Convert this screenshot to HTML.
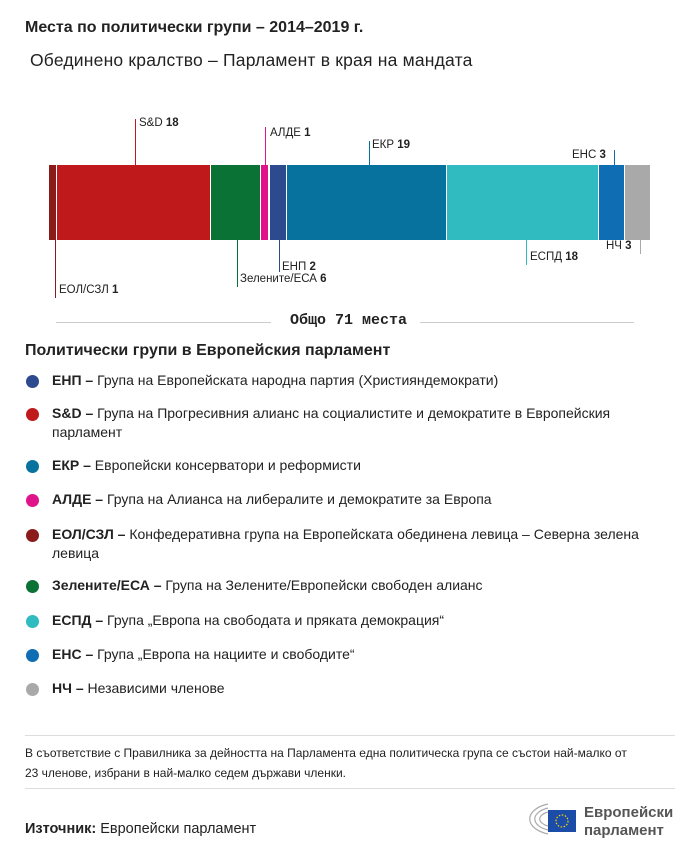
<!DOCTYPE html><html><head><meta charset="utf-8"><style>
body{margin:0;width:700px;height:856px;background:#fff;font-family:"Liberation Sans","DejaVu Sans",sans-serif;color:#222;position:relative;overflow:hidden}
.a{position:absolute;white-space:nowrap}
.s{position:absolute;top:165px;height:75px}
.l{position:absolute;width:1px}
.lb{position:absolute;font-size:11.5px;white-space:nowrap}
.dot{position:absolute;left:26px;width:13px;height:13px;border-radius:50%}
.it{position:absolute;left:52px;width:610px;font-size:14px;line-height:19px}
</style></head><body>
<div class="a" style="left:25px;top:19px;font-size:16px;font-weight:bold">Места по политически групи – 2014–2019 г.</div>
<div class="a" style="left:30px;top:50px;font-size:17.5px;letter-spacing:0.2px">Обединено кралство – Парламент в края на мандата</div>

<div class="s" style="left:49px;width:7px;background:#8b1a1a"></div>
<div class="s" style="left:57px;width:153px;background:#c0191b"></div>
<div class="s" style="left:211px;width:49px;background:#0b7236"></div>
<div class="s" style="left:261px;width:7px;background:#e0148a"></div>
<div class="s" style="left:270px;width:16px;background:#2e4a8f"></div>
<div class="s" style="left:287px;width:159px;background:#08729e"></div>
<div class="s" style="left:447px;width:151px;background:#30bbc1"></div>
<div class="s" style="left:599px;width:25px;background:#0e6db3"></div>
<div class="s" style="left:625px;width:25px;background:#a9a9a9"></div>

<div class="l" style="left:135px;top:119px;height:46px;background:#c0191b"></div>
<div class="lb" style="left:139px;top:117px">S&amp;D <b>18</b></div>
<div class="l" style="left:265px;top:127px;height:38px;background:#e0148a"></div>
<div class="lb" style="left:270px;top:127px">АЛДЕ <b>1</b></div>
<div class="l" style="left:369px;top:141px;height:24px;background:#08729e"></div>
<div class="lb" style="left:372px;top:139px">ЕКР <b>19</b></div>
<div class="l" style="left:614px;top:150px;height:15px;background:#0e6db3"></div>
<div class="lb" style="left:572px;top:149px">ЕНС <b>3</b></div>

<div class="l" style="left:55px;top:240px;height:58px;background:#8b1a1a"></div>
<div class="lb" style="left:59px;top:284px">ЕОЛ/СЗЛ <b>1</b></div>
<div class="l" style="left:237px;top:240px;height:47px;background:#0b7236"></div>
<div class="lb" style="left:240px;top:273px">Зелените/ЕСА <b>6</b></div>
<div class="l" style="left:279px;top:240px;height:32px;background:#2e4a8f"></div>
<div class="lb" style="left:282px;top:261px">ЕНП <b>2</b></div>
<div class="l" style="left:526px;top:240px;height:25px;background:#30bbc1"></div>
<div class="lb" style="left:530px;top:251px">ЕСПД <b>18</b></div>
<div class="l" style="left:640px;top:240px;height:14px;background:#a9a9a9"></div>
<div class="lb" style="left:606px;top:240px">НЧ <b>3</b></div>

<div class="a" style="left:56px;top:322px;width:215px;height:1px;background:#ccc"></div>
<div class="a" style="left:420px;top:322px;width:214px;height:1px;background:#ccc"></div>
<div class="a" style="left:290px;top:312px;font-family:'Liberation Mono',monospace;font-weight:bold;font-size:15px">Общо 71 места</div>

<div class="a" style="left:25px;top:342px;font-size:16px;font-weight:bold">Политически групи в Европейския парламент</div>

<div class="dot" style="top:375px;background:#2e4a8f"></div><div class="it" style="top:371px"><b>ЕНП –</b> Група на Европейската народна партия (Християндемократи)</div>
<div class="dot" style="top:408px;background:#c0191b"></div><div class="it" style="top:404px"><b>S&amp;D –</b> Група на Прогресивния алианс на социалистите и демократите в Европейския парламент</div>
<div class="dot" style="top:460px;background:#08729e"></div><div class="it" style="top:456px"><b>ЕКР –</b> Европейски консерватори и реформисти</div>
<div class="dot" style="top:494px;background:#e0148a"></div><div class="it" style="top:490px"><b>АЛДЕ –</b> Група на Алианса на либералите и демократите за Европа</div>
<div class="dot" style="top:529px;background:#8b1a1a"></div><div class="it" style="top:525px"><b>ЕОЛ/СЗЛ –</b> Конфедеративна група на Европейската обединена левица – Северна зелена левица</div>
<div class="dot" style="top:580px;background:#0b7236"></div><div class="it" style="top:576px"><b>Зелените/ЕСА –</b> Група на Зелените/Европейски свободен алианс</div>
<div class="dot" style="top:615px;background:#30bbc1"></div><div class="it" style="top:611px"><b>ЕСПД –</b> Група „Европа на свободата и пряката демокрация“</div>
<div class="dot" style="top:649px;background:#0e6db3"></div><div class="it" style="top:645px"><b>ЕНС –</b> Група „Европа на нациите и свободите“</div>
<div class="dot" style="top:683px;background:#a9a9a9"></div><div class="it" style="top:679px"><b>НЧ –</b> Независими членове</div>

<div class="a" style="left:25px;top:735px;width:650px;height:1px;background:#ddd"></div>
<div class="a" style="left:25px;top:743px;width:650px;font-size:12px;line-height:20px">В съответствие с Правилника за дейността на Парламента една политическа група се състои най-малко от<br>23 членове, избрани в най-малко седем държави членки.</div>
<div class="a" style="left:25px;top:788px;width:650px;height:1px;background:#ddd"></div>
<div class="a" style="left:25px;top:821px;font-size:14.5px"><b>Източник:</b> Европейски парламент</div>

<svg class="a" style="left:512px;top:800px" width="66" height="38" viewBox="0 0 66 38">
<g fill="none" stroke="#aaa" stroke-width="1.2">
<path d="M36 4 A28 16 0 0 0 36 34"/><path d="M36 8 A22 12 0 0 0 36 30"/><path d="M36 12 A16 8 0 0 0 36 26"/>
</g>
<rect x="36" y="10" width="28" height="22" fill="#1b4ca8"/>
<circle cx="50" cy="21" r="6" fill="none" stroke="#ffd400" stroke-width="1.2" stroke-dasharray="1.5 1.6"/>
</svg>
<div class="a" style="left:584px;top:804px;font-size:15px;font-weight:bold;color:#555;line-height:18px">Европейски<br>парламент</div>
</body></html>
